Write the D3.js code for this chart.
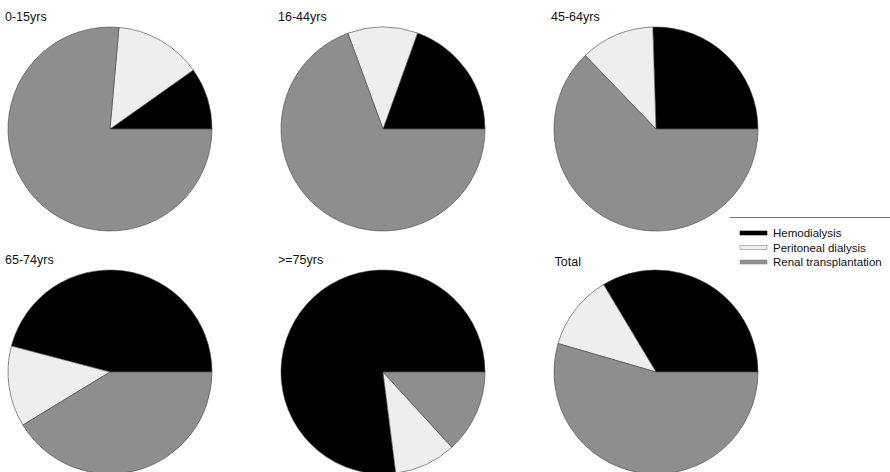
<!DOCTYPE html>
<html>
<head>
<meta charset="utf-8">
<script src="https://cdn.jsdelivr.net/npm/d3@7"></script>
<style>
  html, body { margin: 0; padding: 0; background: #fff; }
  svg { display: block; }
  text { font-family: "Liberation Sans", Arial, sans-serif; fill: #111; }
</style>
</head>
<body>
<svg id="chart" width="890" height="472"></svg>
<script>
// ---- data (percent) ----
const groups = ["0-15yrs", "16-44yrs", "45-64yrs", "65-74yrs", ">=75yrs", "Total"];
const hemodialysis = [9.8, 19.5, 25.5, 45.9, 77.0, 33.6];
const peritoneal   = [13.8, 11.1, 11.7, 12.8, 9.8, 11.9];
const transplant   = [76.4, 69.4, 62.8, 41.3, 13.2, 54.5];
const modalities = ["Hemodialysis", "Peritoneal dialysis", "Renal transplantation"];
const colors = ["#000000", "#eeeeee", "#8e8e8e"];

const svg = d3.select("#chart");
const W = 890, H = 472;
const R = 102;

const colX = d3.scalePoint().domain([0, 1, 2]).range([110, 656]);
const rowY = d3.scalePoint().domain([0, 1]).range([129, 372]);
const color = d3.scaleOrdinal().domain(modalities).range(colors);

// counterclockwise from 3 o'clock
const pie = d3.pie().sort(null).value(d => d.v)
  .startAngle(Math.PI / 2).endAngle(Math.PI / 2 - 2 * Math.PI);
const arc = d3.arc().innerRadius(0).outerRadius(R);

groups.forEach((g, i) => {
  const cx = colX(i % 3), cy = rowY(Math.floor(i / 3));
  const vals = [hemodialysis[i], peritoneal[i], transplant[i]].map((v, k) => ({ k: modalities[k], v }));
  const gEl = svg.append("g").attr("transform", `translate(${cx},${cy})`);
  gEl.selectAll("path").data(pie(vals)).join("path")
    .attr("d", arc)
    .attr("fill", d => color(d.data.k))
    .attr("stroke", "#444")
    .attr("stroke-width", 0.6)
    .attr("stroke-linejoin", "round");
  svg.append("text")
    .attr("x", cx - R - (i === 5 ? -0.5 : 3))
    .attr("y", cy - R - 6 - (i === 5 ? -2 : 0))
    .attr("font-size", 12.5)
    .text(g);
});

// ---- legend ----
const lg = svg.append("g");
lg.append("line").attr("x1", 730).attr("x2", 890).attr("y1", 217.5).attr("y2", 217.5)
  .attr("stroke", "#777").attr("stroke-width", 1);
const ly = d3.scalePoint().domain(modalities).range([233, 262]);
modalities.forEach(m => {
  const y = ly(m);
  lg.append("rect").attr("x", 740).attr("y", y - 2).attr("width", 27).attr("height", 4)
    .attr("fill", color(m))
    .attr("stroke", m === "Hemodialysis" ? "#000" : "#888").attr("stroke-width", 0.6);
  lg.append("text").attr("x", 773).attr("y", y + 4).attr("font-size", 11.5).text(m);
});
</script>
</body>
</html>
